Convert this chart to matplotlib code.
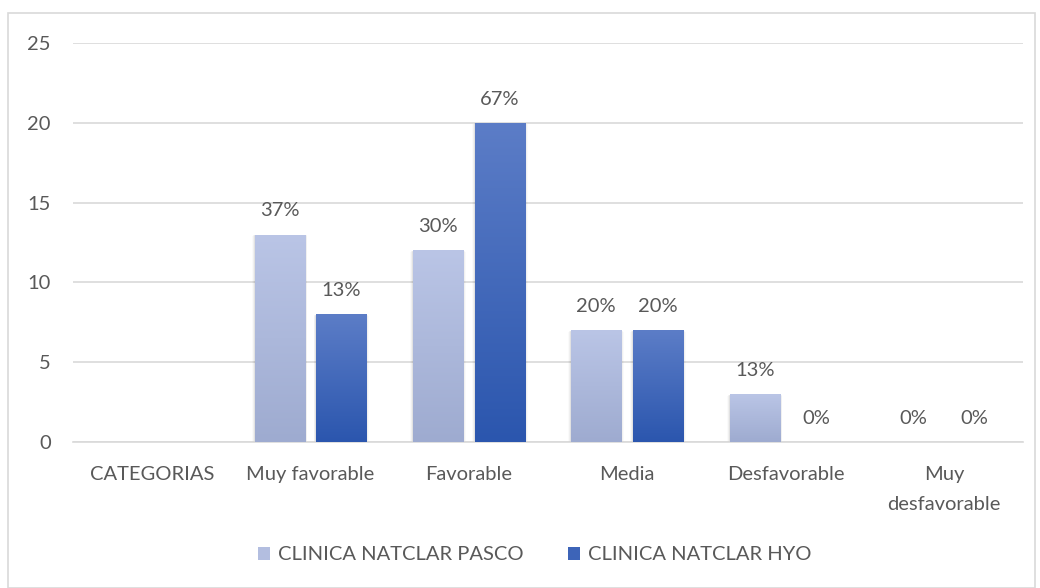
import matplotlib.pyplot as plt
import numpy as np
from matplotlib.patches import Rectangle
from matplotlib.colors import LinearSegmentedColormap

categories = ["CATEGORIAS", "Muy favorable", "Favorable", "Media", "Desfavorable", "Muy\ndesfavorable"]
pasco = [0, 13, 12, 7, 3, 0]
hyo = [0, 8, 20, 7, 0, 0]
pasco_labels = ["", "37%", "30%", "20%", "13%", "0%"]
hyo_labels = ["", "13%", "67%", "20%", "0%", "0%"]
series_names = ["CLINICA NATCLAR PASCO", "CLINICA NATCLAR HYO"]

TEXT = "#595959"
GRID = "#D9D9D9"
FONT = "Lato"
FS = 14.5

plt.rcParams["font.family"] = [FONT, "DejaVu Sans"]

fig = plt.figure(figsize=(10.4, 5.88), dpi=100)
ax = fig.add_axes([73 / 1040, 1 - 442 / 588, 950 / 1040, 399 / 588])

# outer chart border
fig.add_artist(Rectangle((8 / 1040, 0.0), 1 - 13 / 1040, 1 - 13 / 588, transform=fig.transFigure,
                         fill=False, edgecolor=GRID, linewidth=1.2))

x = np.arange(len(categories))
width = 0.316
offset = 0.195

cmap_p = LinearSegmentedColormap.from_list("p", ["#9EABD0", "#BAC5E6"])
cmap_h = LinearSegmentedColormap.from_list("h", ["#2B56AE", "#5C7DC7"])
grad = np.linspace(0, 1, 256).reshape(-1, 1)

def draw_bars(xs, vals, cmap):
    for xi, v in zip(xs, vals):
        if v <= 0:
            continue
        # soft shadow
        for k, a in enumerate([0.06, 0.04, 0.02]):
            d = 0.012 * (k + 1)
            ax.add_patch(Rectangle((xi - width / 2 - d * 0.5, -0.08 * (k + 1)), width + d, v + 0.05 * (k + 1),
                                   facecolor="black", alpha=a, edgecolor="none", zorder=2))
        im = ax.imshow(grad, cmap=cmap, aspect="auto", origin="lower",
                       extent=(xi - width / 2, xi + width / 2, 0, v), zorder=3)
        rect = Rectangle((xi - width / 2, 0), width, v, facecolor="none", edgecolor="none")
        ax.add_patch(rect)
        im.set_clip_path(rect)

draw_bars(x - offset, pasco, cmap_p)
draw_bars(x + offset, hyo, cmap_h)

for xi, v, lab in zip(x - offset, pasco, pasco_labels):
    if lab:
        ax.annotate(lab, (xi, v), xytext=(0, 11), textcoords="offset points",
                    ha="center", va="bottom", fontsize=FS, color=TEXT)
for xi, v, lab in zip(x + offset, hyo, hyo_labels):
    if lab:
        ax.annotate(lab, (xi, v), xytext=(0, 11), textcoords="offset points",
                    ha="center", va="bottom", fontsize=FS, color=TEXT)

ax.set_xlim(-0.5, len(categories) - 0.5)
ax.set_ylim(0, 25)
ax.set_yticks([0, 5, 10, 15, 20, 25])
ax.set_xticks(x)
ax.set_xticklabels(categories, fontsize=FS, color=TEXT, linespacing=1.95)
ax.tick_params(axis="y", labelsize=FS, labelcolor=TEXT, length=0, pad=16)
ax.tick_params(axis="x", length=0, pad=17)
ax.grid(axis="y", color=GRID, linewidth=1.2, zorder=0)
ax.set_axisbelow(True)
for s in ["top", "right", "left"]:
    ax.spines[s].set_visible(False)
ax.spines["bottom"].set_color(GRID)
ax.spines["bottom"].set_linewidth(1.2)

handles = [Rectangle((0, 0), 1, 1, facecolor="#B3BEE0"), Rectangle((0, 0), 1, 1, facecolor="#3D64B8")]
fig.legend(handles, series_names, loc="center", bbox_to_anchor=(535 / 1040, 1 - 555 / 588),
           ncol=2, frameon=False, fontsize=FS, labelcolor=TEXT, handlelength=0.6, handleheight=0.6,
           handletextpad=0.4, columnspacing=2.2)

fig.savefig("out.png", dpi=100, facecolor="white")
